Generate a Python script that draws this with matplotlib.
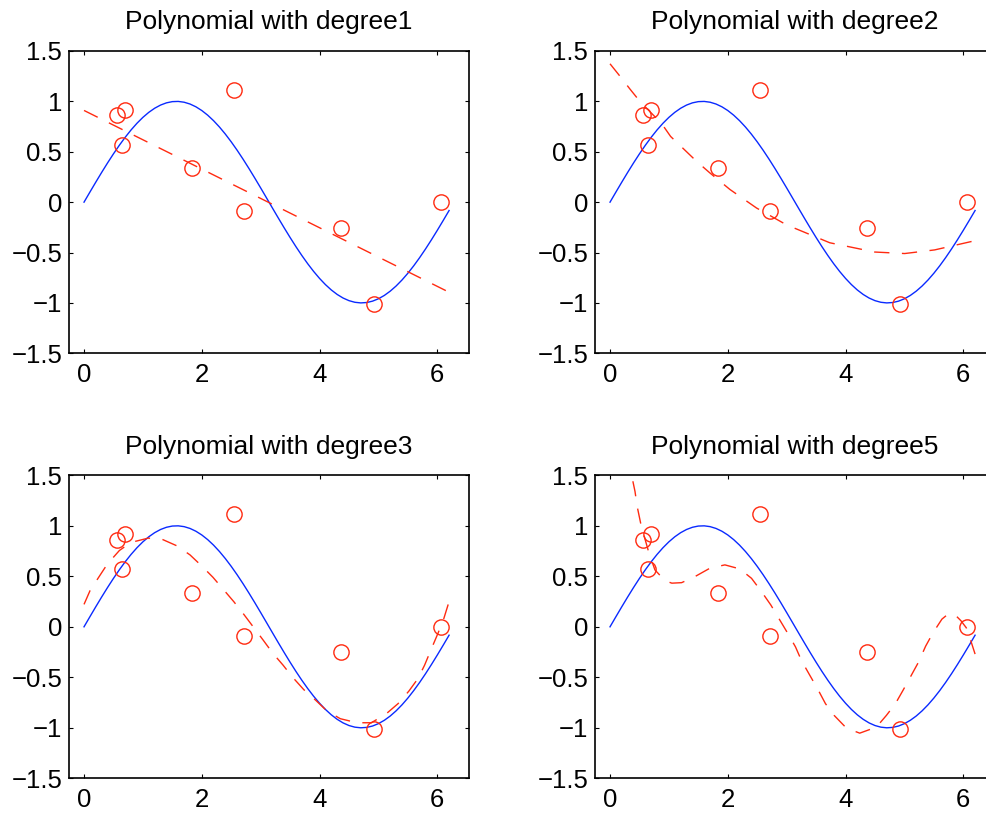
import numpy as np
import matplotlib
matplotlib.use("Agg")
import matplotlib.pyplot as plt
from matplotlib.ticker import FixedLocator, FuncFormatter

plt.rcParams['font.family'] = ['Liberation Sans', 'DejaVu Sans']

# Observed noisy samples (red circles)
x_data = [0.565, 0.650, 0.701, 1.832, 2.539, 2.709, 4.365, 4.919, 6.056]
y_data = [0.864, 0.572, 0.917, 0.334, 1.115, -0.087, -0.252, -1.010, 0.000]

# Underlying true curve (blue), sampled on 0:0.1:6.2
x_true = np.arange(0, 6.2 + 1e-9, 0.1)
y_true = np.sin(x_true)

# Fitted polynomial curves (red dashed)
fit1_x = [0.0, 3.127, 6.2]
fit1_y = [0.91, 0.0, -0.894]

fit2_x = [0.0, 0.181, 0.339, 0.509, 0.876, 1.029, 1.470, 1.696, 2.036, 2.488,
          2.997, 3.732, 4.495, 5.004, 5.513, 6.135, 6.2]
fit2_y = [1.373, 1.241, 1.122, 0.999, 0.78, 0.652, 0.405, 0.290, 0.126, -0.058,
          -0.225, -0.403, -0.495, -0.510, -0.474, -0.391, -0.38]

fit3_x = [0.0, 0.102, 0.26, 0.395, 0.60, 0.79, 1.09, 1.32, 1.58, 1.80, 2.01,
          2.19, 2.375, 2.545, 2.714, 2.873, 3.043, 3.201, 3.381, 3.539, 3.732,
          3.936, 4.127, 4.353, 4.637, 4.880, 5.135, 5.333, 5.518, 5.671, 5.784,
          5.898, 6.011, 6.107, 6.2]
fit3_y = [0.222, 0.358, 0.50, 0.62, 0.755, 0.834, 0.878, 0.868, 0.801, 0.712,
          0.596, 0.490, 0.364, 0.248, 0.123, 0.0, -0.132, -0.258, -0.380,
          -0.497, -0.622, -0.728, -0.834, -0.910, -0.950, -0.950, -0.860,
          -0.761, -0.636, -0.513, -0.380, -0.220, -0.065, 0.075, 0.25]

fit5_x = [0.2, 0.3, 0.368, 0.424, 0.463, 0.520, 0.582, 0.662, 0.763, 0.933,
          1.05, 1.216, 1.442, 1.696, 1.951, 2.205, 2.403, 2.573, 2.731, 2.867,
          3.014, 3.150, 3.252, 3.393, 3.523, 3.659, 3.806, 4.015, 4.241, 4.524,
          4.694, 4.847, 4.976, 5.117, 5.241, 5.360, 5.485, 5.637, 5.75, 5.864,
          5.96, 6.051, 6.124, 6.2]
fit5_y = [1.98, 1.69, 1.497, 1.341, 1.186, 1.027, 0.894, 0.729, 0.563, 0.457,
          0.432, 0.437, 0.497, 0.580, 0.613, 0.573, 0.480, 0.348, 0.216, 0.083,
          -0.060, -0.199, -0.335, -0.480, -0.612, -0.761, -0.877, -1.003,
          -1.053, -0.993, -0.877, -0.761, -0.629, -0.480, -0.348, -0.192,
          -0.060, 0.076, 0.130, 0.116, 0.06, -0.010, -0.132, -0.27]

fits_x = [fit1_x, fit2_x, fit3_x, fit5_x]
fits_y = [fit1_y, fit2_y, fit3_y, fit5_y]
titles = ["Polynomial with degree1", "Polynomial with degree2",
          "Polynomial with degree3", "Polynomial with degree5"]

x_ticks = [0, 2, 4, 6]
y_ticks = [-1.5, -1, -0.5, 0, 0.5, 1, 1.5]

W, H = 987, 816
fig = plt.figure(figsize=(W / 100, H / 100), dpi=100)

# axes boxes in pixels: left, top, width, height
boxes = [(69.3, 51.0, 399.4, 302.3), (595.3, 51.0, 399.4, 302.3),
         (69.3, 475.3, 399.4, 303.0), (595.3, 475.3, 399.4, 303.0)]

fmt = FuncFormatter(lambda v, p: ("%g" % v).replace("-", "\u2212"))

RED = '#ff2a10'
BLUE = '#0a2aff'

for (l, t, w, h), fx, fy, title in zip(boxes, fits_x, fits_y, titles):
    ax = fig.add_axes([l / W, 1 - (t + h) / H, w / W, h / H])
    ax.plot(x_true, y_true, color=BLUE, lw=1.0)
    ax.plot(x_data, y_data, 'o', mfc='none', mec=RED, ms=11, mew=1.0,
            linestyle='none')
    ax.plot(fx, fy, color=RED, lw=1.0, dashes=(11, 9))
    ax.set_xlim(-0.25, 2 * np.pi + 0.25)
    ax.set_ylim(-1.5, 1.5)
    ax.xaxis.set_major_locator(FixedLocator(x_ticks))
    ax.yaxis.set_major_locator(FixedLocator(y_ticks))
    ax.yaxis.set_major_formatter(fmt)
    ax.tick_params(direction='in', length=3, width=0.8, top=True, right=True,
                   labelsize=18.5, colors='black')
    ax.tick_params(axis='x', pad=7)
    ax.tick_params(axis='y', pad=5)
    for s in ax.spines.values():
        s.set_linewidth(1.2)
    ax.set_title(title, fontsize=19, pad=15.5)

fig.savefig("out.png", dpi=100)
